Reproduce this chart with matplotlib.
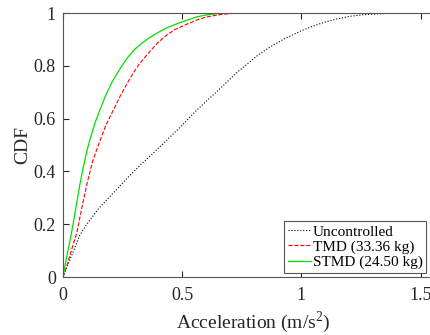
import numpy as np
import matplotlib
matplotlib.use("Agg")
import matplotlib.pyplot as plt

# CDF curves
acc_unc = [0, 0.02, 0.045, 0.071, 0.1, 0.15, 0.218, 0.27, 0.324, 0.38, 0.437, 0.5,
           0.55, 0.6, 0.66, 0.73, 0.78, 0.82, 0.87, 0.93, 1.0, 1.05, 1.1, 1.15, 1.2,
           1.25, 1.3, 1.37, 1.45, 1.6]
cdf_unc = [0, 0.045, 0.1, 0.159, 0.2, 0.26, 0.325, 0.375, 0.424, 0.47, 0.52, 0.575,
           0.622, 0.665, 0.715, 0.775, 0.812, 0.842, 0.872, 0.903, 0.933, 0.951, 0.966,
           0.978, 0.987, 0.993, 0.996, 0.999, 1.0, 1.0]

acc_tmd = [0, 0.016, 0.035, 0.058, 0.08, 0.1, 0.125, 0.155, 0.18, 0.21, 0.24, 0.27,
           0.3, 0.323, 0.36, 0.395, 0.43, 0.47, 0.52, 0.56, 0.6, 0.65, 0.7, 0.75, 0.83]
cdf_tmd = [0, 0.04, 0.1, 0.167, 0.265, 0.35, 0.44, 0.515, 0.575, 0.63, 0.685, 0.735,
           0.78, 0.81, 0.85, 0.885, 0.913, 0.938, 0.958, 0.973, 0.985, 0.993, 0.998,
           1.0, 1.0]

acc_stmd = [0, 0.01, 0.02, 0.036, 0.05, 0.071, 0.084, 0.1, 0.113, 0.135, 0.155, 0.18,
            0.21, 0.24, 0.27, 0.3, 0.33, 0.36, 0.4, 0.437, 0.48, 0.52, 0.56, 0.6, 0.65,
            0.7]
cdf_stmd = [0, 0.05, 0.095, 0.167, 0.24, 0.35, 0.41, 0.475, 0.52, 0.585, 0.633, 0.69,
            0.745, 0.79, 0.83, 0.862, 0.885, 0.905, 0.927, 0.945, 0.96, 0.973, 0.985,
            0.993, 0.998, 1.0]

labels = ['Uncontrolled', 'TMD (33.36 kg)', 'STMD (24.50 kg)']
xticks = [0, 0.5, 1, 1.5]
yticks = [0, 0.2, 0.4, 0.6, 0.8, 1]

plt.rcParams['font.family'] = 'Liberation Serif'
plt.rcParams['mathtext.fontset'] = 'custom'
plt.rcParams['mathtext.rm'] = 'Liberation Serif'
plt.rcParams['font.size'] = 13

axcol = '#262626'
fig = plt.figure(figsize=(4.31, 3.35), dpi=100)
ax = fig.add_axes([0.146, 0.173, 0.885, 0.788])

ax.plot(acc_unc, cdf_unc, color='k', linestyle=':', linewidth=0.8, label=labels[0])
ax.plot(acc_tmd, cdf_tmd, color='r', linestyle='--', linewidth=0.8, label=labels[1])
ax.plot(acc_stmd, cdf_stmd, color='#00e000', linestyle='-', linewidth=0.9, label=labels[2])

ax.set_xlim(0, 1.6)
ax.set_ylim(0, 1)
ax.set_xticks(xticks)
ax.set_xticklabels(['0', '0.5', '1', '1.5'])
ax.set_yticks(yticks)
ax.set_yticklabels(['0', '0.2', '0.4', '0.6', '0.8', '1'])
ax.tick_params(direction='in', length=4, width=0.8, colors=axcol, top=True,
               labelcolor=axcol, labelsize=13)
ax.tick_params(axis='x', pad=7)
ax.tick_params(axis='y', pad=5)
for s in ax.spines.values():
    s.set_color('#555555')
    s.set_linewidth(0.8)

ax.set_xlabel('Acceleration (m/s$^2$)', color=axcol, fontsize=14, labelpad=4)
ax.set_ylabel('CDF', color=axcol, fontsize=14, labelpad=2)

leg = ax.legend(loc='lower right', bbox_to_anchor=(0.963, 0.0), fontsize=11,
                handlelength=1.5, handletextpad=0.1, borderpad=0.25, labelspacing=0.1,
                borderaxespad=0.25, fancybox=False, framealpha=1)
leg.get_frame().set_edgecolor('#555555')
leg.get_frame().set_linewidth(0.8)

fig.savefig('out.png', dpi=100)
